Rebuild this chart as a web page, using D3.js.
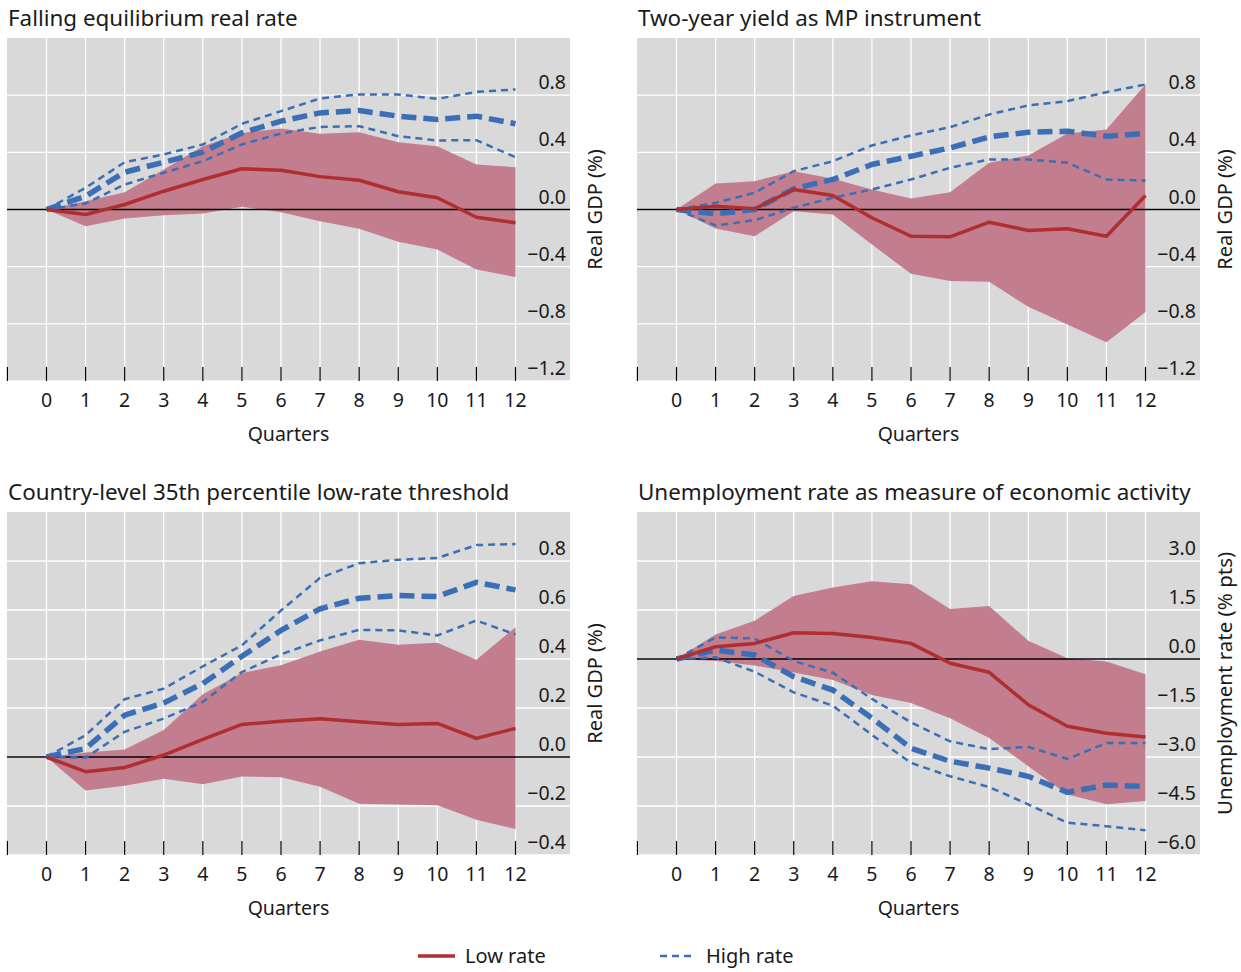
<!DOCTYPE html>
<html>
<head>
<meta charset="utf-8">
<script src="https://cdn.jsdelivr.net/npm/d3@7"></script>
<style>
  body { margin: 0; background: #fff; }
  svg text { font-family: "Noto Sans", "Open Sans", sans-serif; fill: #1a1a1a; }
</style>
</head>
<body>
<div id="chart"></div>
<script>
// quarters on the x axis
var quarters = [0, 1, 2, 3, 4, 5, 6, 7, 8, 9, 10, 11, 12];

// panel 1 - falling equilibrium real rate
var p1LowMid  = [0, -0.035, 0.035, 0.128, 0.21, 0.285, 0.275, 0.23, 0.205, 0.124, 0.082, -0.054, -0.093];
var p1LowUp   = [0, 0.058, 0.121, 0.28, 0.443, 0.536, 0.567, 0.53, 0.541, 0.471, 0.443, 0.315, 0.296];
var p1LowLo   = [0, -0.117, -0.063, -0.04, -0.028, 0.019, -0.019, -0.082, -0.135, -0.226, -0.28, -0.42, -0.473];
var p1HighMid = [0, 0.093, 0.261, 0.331, 0.401, 0.536, 0.618, 0.676, 0.693, 0.653, 0.63, 0.653, 0.6];
var p1HighUp  = [0, 0.152, 0.331, 0.385, 0.455, 0.6, 0.688, 0.777, 0.805, 0.805, 0.774, 0.823, 0.84];
var p1HighLo  = [0, 0.042, 0.175, 0.257, 0.338, 0.455, 0.532, 0.578, 0.583, 0.513, 0.483, 0.485, 0.366];

// panel 2 - two-year yield
var p2LowMid  = [0, 0.023, 0.005, 0.14, 0.098, -0.058, -0.187, -0.191, -0.089, -0.147, -0.135, -0.187, 0.098];
var p2LowUp   = [0, 0.182, 0.198, 0.268, 0.215, 0.14, 0.077, 0.121, 0.327, 0.378, 0.532, 0.56, 0.875];
var p2LowLo   = [0, -0.133, -0.187, -0.012, -0.035, -0.245, -0.45, -0.501, -0.506, -0.681, -0.805, -0.928, -0.718];
var p2HighMid = [0, -0.03, 0, 0.145, 0.21, 0.315, 0.373, 0.431, 0.508, 0.541, 0.548, 0.513, 0.532];
var p2HighUp  = [0, 0.047, 0.117, 0.268, 0.338, 0.448, 0.518, 0.576, 0.665, 0.728, 0.758, 0.821, 0.875];
var p2HighLo  = [0, -0.112, -0.075, 0.012, 0.082, 0.14, 0.21, 0.292, 0.35, 0.35, 0.327, 0.21, 0.203];

// panel 3 - 35th percentile threshold
var p3LowMid  = [0, -0.06, -0.043, 0.008, 0.072, 0.133, 0.146, 0.156, 0.144, 0.133, 0.137, 0.076, 0.117];
var p3LowUp   = [0, 0.018, 0.031, 0.11, 0.256, 0.343, 0.374, 0.431, 0.479, 0.458, 0.466, 0.397, 0.53];
var p3LowLo   = [0, -0.137, -0.117, -0.089, -0.111, -0.08, -0.083, -0.121, -0.191, -0.194, -0.197, -0.256, -0.294];
var p3HighMid = [0, 0.035, 0.171, 0.221, 0.3, 0.411, 0.517, 0.605, 0.648, 0.659, 0.655, 0.713, 0.682];
var p3HighUp  = [0, 0.089, 0.236, 0.279, 0.37, 0.456, 0.598, 0.731, 0.791, 0.805, 0.812, 0.865, 0.869];
var p3HighLo  = [0, -0.003, 0.103, 0.157, 0.225, 0.347, 0.419, 0.476, 0.519, 0.517, 0.496, 0.557, 0.5];

// panel 4 - unemployment rate
var p4LowMid  = [0, 0.376, 0.478, 0.803, 0.783, 0.661, 0.478, -0.132, -0.407, -1.4, -2.06, -2.27, -2.39];
var p4LowUp   = [0, 0.753, 1.17, 1.93, 2.19, 2.38, 2.29, 1.53, 1.62, 0.56, 0.02, -0.08, -0.47];
var p4LowLo   = [0, -0.06, -0.2, -0.41, -0.64, -1.1, -1.35, -1.81, -2.42, -3.28, -4.15, -4.45, -4.35];
var p4HighMid = [0, 0.275, 0.122, -0.54, -0.95, -1.81, -2.73, -3.13, -3.34, -3.59, -4.08, -3.86, -3.9];
var p4HighUp  = [0, 0.66, 0.63, -0.06, -0.42, -1.22, -1.94, -2.52, -2.76, -2.69, -3.06, -2.57, -2.57];
var p4HighLo  = [0, 0.05, -0.39, -1.02, -1.43, -2.32, -3.18, -3.59, -3.92, -4.45, -5.01, -5.12, -5.24];

var titles = ["Falling equilibrium real rate", "Two-year yield as MP instrument",
              "Country-level 35th percentile low-rate threshold", "Unemployment rate as measure of economic activity"];
var yTitles = ["Real GDP (%)", "Real GDP (%)", "Real GDP (%)", "Unemployment rate (% pts)"];
var yTicks1 = [-1.2, -0.8, -0.4, 0.0, 0.4, 0.8];
var yTicks3 = [-0.4, -0.2, 0.0, 0.2, 0.4, 0.6, 0.8];
var yTicks4 = [-6.0, -4.5, -3.0, -1.5, 0.0, 1.5, 3.0];
var legendLabels = ["Low rate", "High rate"];

var W = 1241, H = 972;
var red = "#b02e2f", blue = "#3a6fb8", band = "#c27e8e", grey = "#d9d9d9";

var svg = d3.select("#chart").append("svg")
    .attr("width", W).attr("height", H);

var panels = [
    { x: 7,   y: 38,  dom: [-1.2, 1.2], ticks: yTicks1, lm: p1LowMid, lu: p1LowUp, ll: p1LowLo, hm: p1HighMid, hu: p1HighUp, hl: p1HighLo },
    { x: 637, y: 38,  dom: [-1.2, 1.2], ticks: yTicks1, lm: p2LowMid, lu: p2LowUp, ll: p2LowLo, hm: p2HighMid, hu: p2HighUp, hl: p2HighLo },
    { x: 7,   y: 512, dom: [-0.4, 1.0], ticks: yTicks3, lm: p3LowMid, lu: p3LowUp, ll: p3LowLo, hm: p3HighMid, hu: p3HighUp, hl: p3HighLo },
    { x: 637, y: 512, dom: [-6, 4.5],   ticks: yTicks4, lm: p4LowMid, lu: p4LowUp, ll: p4LowLo, hm: p4HighMid, hu: p4HighUp, hl: p4HighLo }
];

var pw = 563, ph = 343;

panels.forEach(function (p, i) {
    var g = svg.append("g").attr("transform", "translate(" + p.x + "," + p.y + ")");

    var x = d3.scaleLinear().domain([0, 12]).range([39.5, 508.5]);
    var y = d3.scaleLinear().domain(p.dom).range([ph, 0]);

    g.append("rect").attr("width", pw).attr("height", ph).attr("fill", grey);

    // white grid
    g.selectAll("line.vg").data(quarters).enter().append("line")
        .attr("class", "vg")
        .attr("x1", d => x(d)).attr("x2", d => x(d))
        .attr("y1", 0).attr("y2", ph)
        .attr("stroke", "#fff").attr("stroke-width", 1.3);
    g.selectAll("line.hg").data(p.ticks).enter().append("line")
        .attr("class", "hg")
        .attr("x1", 0).attr("x2", pw)
        .attr("y1", d => y(d)).attr("y2", d => y(d))
        .attr("stroke", "#fff").attr("stroke-width", 1.3);

    // band of low rate
    var area = d3.area()
        .x((d, k) => x(quarters[k]))
        .y0((d, k) => y(p.ll[k]))
        .y1(d => y(d));
    g.append("path").datum(p.lu).attr("d", area).attr("fill", band);

    // zero line
    g.append("line").attr("x1", 0).attr("x2", pw)
        .attr("y1", y(0)).attr("y2", y(0))
        .attr("stroke", "#000").attr("stroke-width", 1.3);

    var line = d3.line().x((d, k) => x(quarters[k])).y(d => y(d));

    g.append("path").datum(p.hu).attr("d", line).attr("fill", "none")
        .attr("stroke", blue).attr("stroke-width", 2.5).attr("stroke-dasharray", "7,5");
    g.append("path").datum(p.hl).attr("d", line).attr("fill", "none")
        .attr("stroke", blue).attr("stroke-width", 2.5).attr("stroke-dasharray", "7,5");
    g.append("path").datum(p.hm).attr("d", line).attr("fill", "none")
        .attr("stroke", blue).attr("stroke-width", 5.5).attr("stroke-dasharray", "15,7");
    g.append("path").datum(p.lm).attr("d", line).attr("fill", "none")
        .attr("stroke", red).attr("stroke-width", 3.5).attr("stroke-linejoin", "round");

    // x ticks at the bottom, one more on the left edge
    g.selectAll("line.xt").data([-1].concat(quarters)).enter().append("line")
        .attr("class", "xt")
        .attr("x1", d => x(d)).attr("x2", d => x(d))
        .attr("y1", ph - 14).attr("y2", ph)
        .attr("stroke", "#000").attr("stroke-width", 1.2);

    g.selectAll("text.xl").data(quarters).enter().append("text")
        .attr("class", "xl")
        .attr("x", d => x(d)).attr("y", ph + 26)
        .attr("text-anchor", "middle").attr("font-size", 19.5)
        .text(d => d);

    g.append("text").attr("x", pw / 2).attr("y", ph + 60)
        .attr("text-anchor", "middle").attr("font-size", 19.5).text("Quarters");

    // y labels sit just above their grid line, inside the plot
    g.selectAll("text.yl").data(p.ticks).enter().append("text")
        .attr("class", "yl")
        .attr("x", pw - 4).attr("y", d => y(d) - 6)
        .attr("text-anchor", "end").attr("font-size", 19.5)
        .text(d => d3.format(".1f")(d).replace("-", "\u2212"));

    g.append("text")
        .attr("transform", "translate(" + (pw + 32) + "," + (ph / 2) + ") rotate(-90)")
        .attr("text-anchor", "middle").attr("font-size", i == 3 ? 20.5 : 20)
        .text(yTitles[i]);

    g.append("text").attr("x", 1).attr("y", -12)
        .attr("font-size", 22.4).text(titles[i]);
});

// legend
var lg = svg.append("g");
lg.append("line").attr("x1", 418).attr("x2", 455).attr("y1", 956).attr("y2", 956)
    .attr("stroke", red).attr("stroke-width", 3.5);
lg.append("text").attr("x", 465).attr("y", 963).attr("font-size", 20).text(legendLabels[0]);
lg.append("line").attr("x1", 660).attr("x2", 695).attr("y1", 956).attr("y2", 956)
    .attr("stroke", blue).attr("stroke-width", 2.5).attr("stroke-dasharray", "7,5");
lg.append("text").attr("x", 706).attr("y", 963).attr("font-size", 20).text(legendLabels[1]);
</script>
</body>
</html>
